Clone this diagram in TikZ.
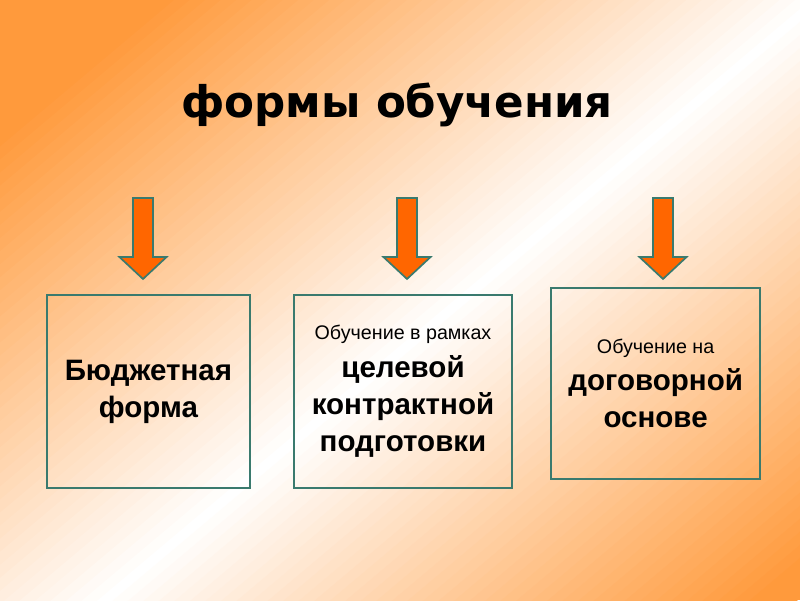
\documentclass[tikz,border=0pt]{standalone}
\usepackage{fontspec}
\setmainfont{Liberation Sans}
\newfontfamily\titlefont{DejaVu Sans}
\usetikzlibrary{positioning}
\usetikzlibrary{calc}
\definecolor{bgorange}{RGB}{255,154,60}
\definecolor{arroworange}{RGB}{255,102,0}
\definecolor{frameteal}{RGB}{58,122,110}
\tikzset{formbox/.style={draw=frameteal,line width=1.2pt,align=center,inner sep=0pt},
  bigtext/.style={font=\fontsize{21}{26.5}\selectfont\bfseries},
  arrowstyle/.style={fill=arroworange,draw=frameteal,line width=1.2pt,line join=miter},
  blockarrow/.pic={\draw[arrowstyle] (-0.25,0) -- (0.25,0) -- (0.25,-1.475) -- (0.59,-1.475) -- (0,-2.025) -- (-0.59,-1.475) -- (-0.25,-1.475) -- cycle;}}

\begin{document}
\begin{tikzpicture}
\useasboundingbox (0,0) rectangle (20,15);
%background: white band across the slide, orange towards the corners
\begin{scope}
\clip (0,0) rectangle (20,15);
\fill[bgorange] (0,0) rectangle (20,15);
\begin{scope}[shift={(11.56,7.5)},rotate=-49.9]
\foreach \t in {-11,-10.75,...,11}{
  \pgfmathsetmacro\p{max(0,100-abs(\t)*100/10.5)}
  \fill[white!\p!bgorange] (\t-0.13,-20) rectangle (\t+0.14,20);
}
\end{scope}
\end{scope}

\node (title) [anchor=base] at (9.93,12.07) {\titlefont\fontsize{31}{36}\selectfont\bfseries формы обучения};

\node (b1) [formbox, bigtext, minimum width=5.075cm, minimum height=4.825cm] at (3.71,5.21) {Бюджетная\\форма};
\node (b2) [formbox, bigtext, minimum width=5.45cm, minimum height=4.825cm] at (10.075,5.21)
  {{\mdseries\fontsize{14}{17}\selectfont Обучение в рамках}\\целевой\\контрактной\\подготовки};
\node (b3) [formbox, bigtext, minimum width=5.225cm, minimum height=4.775cm] at (16.39,5.41)
  {{\mdseries\fontsize{14}{17}\selectfont Обучение на}\\договорной\\основе};

%arrows above the boxes
\coordinate (a1) at (3.575,10.05);
\coordinate (a2) at (10.175,10.05);
\coordinate (a3) at (16.575,10.05);
\pic at (a1) {blockarrow};
\pic at (a2) {blockarrow};
\pic at (a3) {blockarrow};
\end{tikzpicture}
\end{document}
